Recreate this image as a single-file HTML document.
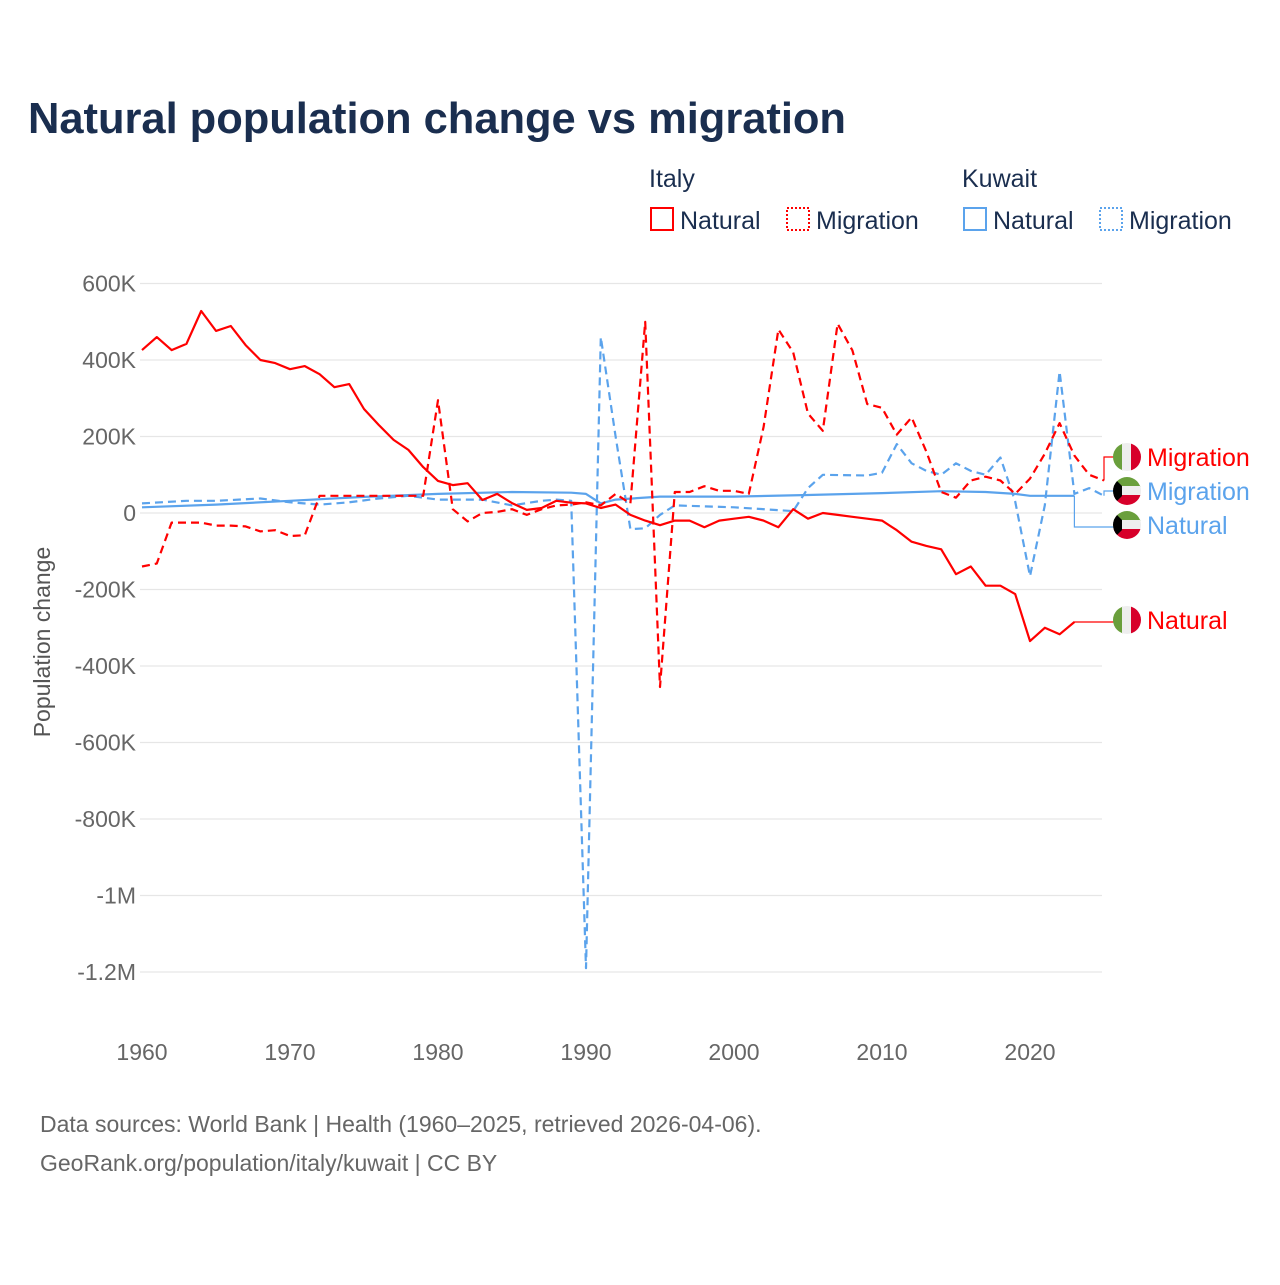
<!DOCTYPE html>
<html><head><meta charset="utf-8"><style>
body{margin:0;background:#fff;font-family:"Liberation Sans",sans-serif}
svg text{font-family:"Liberation Sans",sans-serif}
</style></head><body>
<svg id="c" width="1280" height="1280" xmlns="http://www.w3.org/2000/svg">
<text x="28" y="133" font-size="43.5" font-weight="bold" fill="#1a2e4f" textLength="818">Natural population change vs migration</text>
<g font-size="25" fill="#1a2e4f">
<text x="649" y="187">Italy</text>
<text x="962" y="187">Kuwait</text>
<g><rect x="651" y="208" width="22" height="22" fill="none" stroke="#f00" stroke-width="2"/><text x="680" y="229">Natural</text></g>
<g><rect x="787" y="208" width="22" height="22" fill="none" stroke="#f00" stroke-width="2" stroke-dasharray="2,2"/><text x="816" y="229">Migration</text></g>
<g><rect x="964" y="208" width="22" height="22" fill="none" stroke="#5ba3ec" stroke-width="2"/><text x="993" y="229">Natural</text></g>
<g><rect x="1100" y="208" width="22" height="22" fill="none" stroke="#5ba3ec" stroke-width="2" stroke-dasharray="2,2"/><text x="1129" y="229">Migration</text></g>
</g>
<g id="grid"></g>
<g id="series"></g>
<g id="labels"></g>
<text transform="translate(50,642) rotate(-90)" text-anchor="middle" font-size="23" fill="#555">Population change</text>
<text x="40" y="1132" font-size="23" fill="#666">Data sources: World Bank | Health (1960–2025, retrieved 2026-04-06).</text>
<text x="40" y="1171" font-size="23" fill="#666">GeoRank.org/population/italy/kuwait | CC BY</text>
</svg>
<script>
const yTicks=[600,400,200,0,-200,-400,-600,-800,-1000,-1200];
const yTickLabels=["600K","400K","200K","0","-200K","-400K","-600K","-800K","-1M","-1.2M"];
const xTicks=[1960,1970,1980,1990,2000,2010,2020];
const italyNaturalYears=[1960,1961,1962,1963,1964,1965,1966,1967,1968,1969,1970,1971,1972,1973,1974,1975,1976,1977,1978,1979,1980,1981,1982,1983,1984,1985,1986,1987,1988,1989,1990,1991,1992,1993,1994,1995,1996,1997,1998,1999,2000,2001,2002,2003,2004,2005,2006,2007,2008,2009,2010,2011,2012,2013,2014,2015,2016,2017,2018,2019,2020,2021,2022,2023];
const italyNatural=[426,460,426,442,528,476,489,439,400,392,376,384,363,329,337,272,230,191,165,120,84,73,78,34,50,26,8,13,32,27,25,13,22,-5,-20,-32,-20,-20,-37,-20,-15,-10,-20,-37,10,-15,0,-5,-10,-15,-20,-45,-75,-86,-95,-160,-140,-190,-190,-212,-335,-300,-317,-285];
const italyMigrationYears=[1960,1961,1962,1963,1964,1965,1966,1967,1968,1969,1970,1971,1972,1973,1974,1975,1976,1977,1978,1979,1980,1981,1982,1983,1984,1985,1986,1987,1988,1989,1990,1991,1992,1993,1994,1995,1996,1997,1998,1999,2000,2001,2002,2003,2004,2005,2006,2007,2008,2009,2010,2011,2012,2013,2014,2015,2016,2017,2018,2019,2020,2021,2022,2023,2024,2025];
const italyMigration=[-140,-132,-25,-25,-25,-33,-33,-35,-48,-45,-60,-58,45,45,45,45,45,45,45,45,295,10,-22,0,3,10,-5,10,20,22,28,20,50,25,500,-455,55,55,70,58,58,50,225,480,420,260,215,495,425,285,275,205,250,160,55,40,85,95,85,50,90,155,235,150,100,85];
const kuwaitNaturalYears=[1960,1965,1970,1975,1980,1985,1989,1990,1991,1992,1995,2000,2005,2010,2014,2017,2019,2020,2023];
const kuwaitNatural=[15,22,32,42,50,55,53,50,25,35,43,43,47,52,57,55,50,45,45];
const kuwaitMigrationYears=[1960,1963,1965,1968,1970,1972,1974,1976,1978,1980,1983,1985,1987,1988,1989,1990,1991,1992,1993,1994,1995,1996,2000,2004,2005,2006,2009,2010,2011,2012,2013,2014,2015,2016,2017,2018,2019,2020,2021,2022,2023,2024,2025];
const kuwaitMigration=[25,32,32,38,28,22,28,38,45,35,35,20,32,35,32,-1190,460,200,-42,-40,-5,20,15,5,65,100,98,105,180,130,110,100,130,110,100,145,30,-165,20,370,50,65,45];

const X=y=>142+(y-1960)*14.8;
const Y=v=>513-v*76.5/200;
const NS="http://www.w3.org/2000/svg";
function el(t,a,p){const e=document.createElementNS(NS,t);for(const k in a)e.setAttribute(k,a[k]);p.appendChild(e);return e;}
const grid=document.getElementById('grid');
yTicks.forEach((v,i)=>{
  const l=el('line',{x1:140,x2:1102,y1:Y(v),y2:Y(v),stroke:'#e6e6e6','stroke-width':1.3},grid);
  
  
  const t=el('text',{x:136,y:Y(v)+8,'text-anchor':'end','font-size':23,fill:'#666'},grid);
  t.textContent=yTickLabels[i];
  
  
});
xTicks.forEach(yr=>{
  const t=el('text',{x:X(yr),y:1060,'text-anchor':'middle','font-size':23,fill:'#666'},grid);
  t.textContent=yr;
  
  
});
const S=document.getElementById('series');
function line(ys,vs,color,dash,name){
  const d=ys.map((y,i)=>(i?'L':'M')+X(y).toFixed(1)+','+Y(vs[i]).toFixed(1)).join('');
  const p=el('path',{d:d,fill:'none',stroke:color,'stroke-width':2.2,'stroke-linejoin':'round'},S);
  if(dash)p.setAttribute('stroke-dasharray','8,5');
  
  
}
line(kuwaitNaturalYears,kuwaitNatural,'#5ba3ec',false,'kuwait-natural-line');
line(kuwaitMigrationYears,kuwaitMigration,'#5ba3ec',true,'kuwait-migration-line');
line(italyNaturalYears,italyNatural,'#f00',false,'italy-natural-line');
line(italyMigrationYears,italyMigration,'#f00',true,'italy-migration-line');

const L=document.getElementById('labels');
function conn(x0,y0,ly,color){
  el('path',{d:`M${x0},${y0}V${ly}H1114`,fill:'none',stroke:color,'stroke-width':1.2},L);
}
conn(X(2025),Y(85),457,'#f00');
conn(X(2025),Y(45),491,'#5ba3ec');
conn(X(2023),Y(45),527,'#5ba3ec');
conn(X(2023),Y(-285),622,'#f00');
let cid=0;
function flag(cy,type){
  const g=el('g',{},L);
  
  
  const id='cp'+(cid++);
  const cp=el('clipPath',{id:id},g);el('circle',{cx:1127,cy:cy,r:14},cp);
  const gg=el('g',{'clip-path':`url(#${id})`},g);
  if(type==='italy'){
    el('rect',{x:1113,y:cy-14,width:10,height:28,fill:'#6a9f3c'},gg);
    el('rect',{x:1122,y:cy-14,width:10,height:28,fill:'#eee'},gg);
    el('rect',{x:1131,y:cy-14,width:10,height:28,fill:'#d7002a'},gg);
  }else{
    el('rect',{x:1113,y:cy-14,width:28,height:10,fill:'#6a9f3c'},gg);
    el('rect',{x:1113,y:cy-5,width:28,height:10,fill:'#eee'},gg);
    el('rect',{x:1113,y:cy+4,width:28,height:10,fill:'#d7002a'},gg);
    el('path',{d:`M1113,${cy-14}L1122,${cy-5}V${cy+5}L1113,${cy+14}Z`,fill:'#000'},gg);
  }
}
function label(cy,txt,color,type,name){
  flag(cy,type);
  const t=el('text',{x:1147,y:cy+9,'font-size':25,fill:color},L);
  t.textContent=txt;
  
  
}
label(457,'Migration','#f00','italy','italy-migration-label');
label(491,'Migration','#5ba3ec','kuwait','kuwait-migration-label');
label(525,'Natural','#5ba3ec','kuwait','kuwait-natural-label');
label(620,'Natural','#f00','italy','italy-natural-label');
</script>
</body></html>
